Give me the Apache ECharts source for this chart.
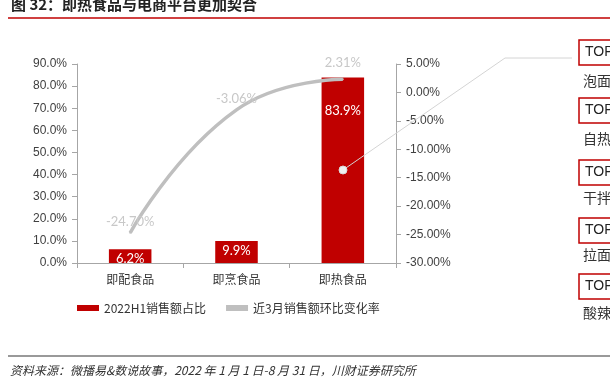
<!DOCTYPE html>
<html><head><meta charset="utf-8">
<script src="https://cdn.jsdelivr.net/npm/echarts@6/dist/echarts.min.js"></script>
<style>html,body{margin:0;padding:0;background:#fff}#c{width:610px;height:382px}</style>
</head><body><div id="c"></div>
<script>
const categories = ['即配食品', '即烹食品', '即热食品'];
const shareValues = [6.2, 9.9, 83.9];
const momValues = [-24.70, -3.06, 2.31];
const shareName = '2022H1销售额占比';
const momName = '近3月销售额环比变化率';
const topLabels = ['泡面', '自热', '干拌', '拉面', '酸辣'];

const chart = echarts.init(document.getElementById('c'), null, {renderer: 'canvas'});
const cjk = '"Noto Sans CJK SC", sans-serif';
const axisColor = '#a6a6a6';

const graphics = [
  {type:'line', shape:{x1:8,y1:18,x2:610,y2:18}, style:{stroke:'#c00000',lineWidth:1.5}},
  {type:'line', shape:{x1:8,y1:356,x2:610,y2:356}, style:{stroke:'#999',lineWidth:2}},
  {type:'text', left:10, top:364, style:{text:'资料来源：微播易&数说故事，2022 年 1 月 1 日-8 月 31 日，川财证券研究所', font:'italic 12px "Noto Sans CJK SC", sans-serif', fill:'#333'}},
  {type:'polyline', shape:{points:[[343,170],[505,58],[572,58]]}, style:{stroke:'#d4d4d4',lineWidth:1,fill:null}, z:10},
  {type:'circle', shape:{cx:343,cy:170,r:4}, style:{fill:'#f0f0f0',stroke:'#d9d9d9',lineWidth:1}, z:11}
];
const boxTops = [40, 98, 160, 218, 274];
const labelTops = [74, 132, 191, 248, 306];
boxTops.forEach((t,i)=>{
  graphics.push({type:'rect', shape:{x:579,y:t,width:40,height:25}, style:{fill:'#fff',stroke:'#c00000',lineWidth:1.5}});
  graphics.push({type:'text', left:585, top:t+5, style:{text:'TOP', font:'14px "Liberation Sans Narrow", "Liberation Sans", sans-serif', fill:'#222'}});
  graphics.push({type:'text', left:583, top:labelTops[i], style:{text:topLabels[i], font:'14px "Noto Sans CJK SC", sans-serif', fill:'#333'}});
});

chart.setOption({
  animation:false,
  title:{text:'图 32：即热食品与电商平台更加契合', left:6, top:-8, textStyle:{fontSize:15, fontWeight:'bold', color:'#222', fontFamily:cjk}},
  grid:{left:77, right:214, top:64, bottom:119},
  legend:{
    left:72, top:297, itemWidth:22, itemHeight:6, itemGap:20,
    textStyle:{fontSize:12, color:'#333', fontFamily:cjk},
    data:[{name:shareName, icon:'rect'},{name:momName, icon:'rect'}]
  },
  xAxis:{
    type:'category', data:categories,
    axisLine:{lineStyle:{color:axisColor}},
    axisTick:{show:true, alignWithLabel:false, length:5, lineStyle:{color:axisColor}},
    axisLabel:{fontSize:12, color:'#333', fontFamily:cjk, margin:10}
  },
  yAxis:[
    {type:'value', min:0, max:90, interval:10, splitLine:{show:false},
     axisLine:{show:true, lineStyle:{color:axisColor}},
     axisTick:{show:true, length:5, lineStyle:{color:axisColor}},
     axisLabel:{formatter:v=>v.toFixed(1)+'%', fontSize:12, color:'#404040', fontFamily:'"Liberation Sans", Arial, sans-serif', margin:10}},
    {type:'value', min:-30, max:5, interval:5, splitLine:{show:false},
     axisLine:{show:true, lineStyle:{color:axisColor}},
     axisTick:{show:true, length:5, lineStyle:{color:axisColor}},
     axisLabel:{formatter:v=>v.toFixed(2)+'%', fontSize:12, color:'#404040', fontFamily:'"Liberation Sans", Arial, sans-serif', margin:10}}
  ],
  series:[
    {name:shareName, type:'bar', yAxisIndex:0, barWidth:'40%',
     itemStyle:{color:'#c00000'},
     data:shareValues.map((v,i)=>({value:v, label:{distance: i===2 ? 27 : 3}})),
     label:{show:true, position:'insideTop', color:'#fff', fontSize:13, fontFamily:'Lato, "Open Sans", sans-serif', formatter:p=>p.value.toFixed(1)+'%'}},
    {name:momName, type:'line', yAxisIndex:1, smooth:0.5, symbol:'circle', symbolSize:2, showSymbol:true, showAllSymbol:true,
     lineStyle:{color:'#bfbfbf', width:3.5}, itemStyle:{color:'#bfbfbf'},
     data:momValues.map((v,i)=>({value:v, label:{show:true, position:'top', distance: i===2 ? 9 : 4, offset: i===2?[0,0]:[-3,0]}})),
     label:{show:true, position:'top', color:'#c8c8c8', fontSize:13, fontFamily:'Lato, "Open Sans", sans-serif', formatter:p=>p.value.toFixed(2)+'%'},
     labelLayout:{hideOverlap:false}, z:3}
  ],
  graphic:graphics
});
</script></body></html>
